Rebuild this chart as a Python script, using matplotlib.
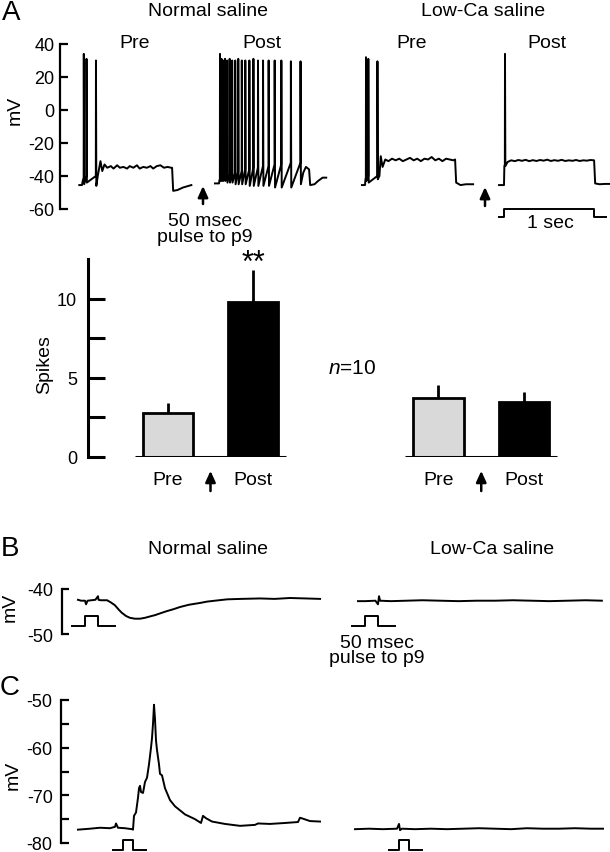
import matplotlib
matplotlib.use("Agg")
import matplotlib.pyplot as plt

plt.rcParams['font.family'] = 'Liberation Sans'
plt.rcParams['mathtext.fontset'] = 'custom'
plt.rcParams['mathtext.it'] = 'Liberation Sans:italic'
plt.rcParams['mathtext.rm'] = 'Liberation Sans'

# ---------------- data ----------------
# Panel A, normal saline, pre (ms from current step onset, mV)
npre_start_t = [-30, 0, 8]
npre_start_v = [-45.5, -45.5, -43]
npre_spk_t = [20, 50, 155]
npre_spk_peak = [34, 31, 30]
npre_spk_thr = [-41, -40, -40]
npre_spk_trough = [-45, -44, -46]
npre_tail_t = [175, 205, 225, 250, 280, 320, 350, 390, 420, 460, 500, 530, 570, 610, 640,
               680, 720, 760, 790, 830, 870, 910, 950, 990, 1000, 1012, 1060, 1120, 1214]
npre_tail_v = [-40, -31, -37, -33, -35, -34, -35.5, -33.5, -35, -34.5, -35.5, -34, -35, -33.5, -35.5,
               -34.5, -35, -34, -35.5, -34, -33.5, -35, -34.5, -35, -35, -49, -48.5, -47, -45.5]

# Panel A, normal saline, post
npost_start_t = [-45, 0, 5]
npost_start_v = [-44.5, -44.5, -42.5]
npost_spk_t = [11, 28, 45, 67, 90, 118, 146, 180, 214, 253, 292, 337, 382, 433, 489, 551, 618, 692, 798, 905]
npost_spk_peak = [34, 31, 30, 31, 30, 31, 30, 30, 31, 30, 30, 30, 31, 30, 30, 30, 30, 30, 29.5, 29.5]
npost_spk_thr = [-42, -40, -40, -40, -39, -39, -38, -38, -37, -37, -36, -36, -35, -35, -34, -34, -33, -33, -32, -32]
npost_spk_trough = [-43, -43, -43, -43, -44, -44, -44, -45, -45, -45, -45, -46, -46, -46, -46, -46, -47, -47, -47, -45]
npost_tail_t = [935, 965, 1000, 1012, 1060, 1100, 1150, 1190]
npost_tail_v = [-38, -34.5, -36, -45.5, -45, -43, -41, -41]

# Panel A, low-Ca saline, pre
lpre_start_t = [-34, 0, 5]
lpre_start_v = [-45.5, -45.5, -42]
lpre_spk_t = [11, 37, 138]
lpre_spk_peak = [32, 31, 29.5]
lpre_spk_thr = [-41, -40, -40]
lpre_spk_trough = [-43, -44, -42]
lpre_tail_t = [160, 175, 195, 225, 260, 300, 340, 380, 420, 460, 500, 540, 580, 620, 660,
               700, 740, 780, 820, 860, 900, 940, 980, 1000, 1012, 1060, 1120, 1200]
lpre_tail_v = [-40, -28, -34.5, -30, -31, -29.5, -30.5, -29.5, -31, -30, -29, -30.5, -29.5, -31, -29.5,
               -30, -28.5, -30.5, -29.5, -31, -29.5, -30, -30.5, -30, -44, -45.5, -45, -45]

# Panel A, low-Ca saline, post
lpost_start_t = [-55, 0, 4]
lpost_start_v = [-45.5, -45.5, -34]
lpost_spk_t = [11]
lpost_spk_peak = [34]
lpost_spk_thr = [-33]
lpost_spk_trough = [-34]
lpost_tail_t = [40, 80, 120, 160, 200, 240, 280, 320, 360, 400, 440, 480, 520, 560, 600,
                640, 680, 720, 760, 800, 840, 880, 920, 960, 1000, 1012, 1060, 1120, 1190]
lpost_tail_v = [-31.5, -30.5, -31, -30.3, -30.8, -30.2, -31, -30.4, -30.9, -30.3, -30.7, -30.1, -30.9, -30.4, -30.8,
                -30.2, -30.9, -30.5, -30.8, -30.3, -30.9, -30.5, -30.7, -30.3, -30.5, -44.5, -45, -44.8, -44.8]

# current step (1 sec) and 50 msec pulse to p9
step_t = [-55, 0, 0, 1000, 1000, 1130]
step_level = [0, 0, 1, 1, 0, 0]
pulse_t = [-50, 0, 0, 50, 50, 115]
pulse_level = [0, 0, 1, 1, 0, 0]

# Spike counts (mean, SEM), n=10
bar_labels = ['Pre', 'Post']
normal_mean = [2.75, 9.8]
normal_sem = [0.63, 2.0]
lowca_mean = [3.75, 3.5]
lowca_sem = [0.77, 0.62]

# Panel B (ms from pulse onset, mV)
b_norm_t = [-27, -15, 0, 4, 10, 25, 40, 50, 52, 60, 85, 100, 115, 130, 142, 158, 173, 192, 212,
            231, 250, 270, 295, 316, 340, 366, 400, 443, 470, 500, 547, 600, 674, 730, 789, 850, 905]
b_norm_v = [-42.4, -42.6, -42.6, -43.4, -42.6, -42.5, -42.4, -41.6, -42.4, -42.5, -42.5, -43.0, -43.6,
            -44.6, -45.3, -46.0, -46.4, -46.6, -46.6, -46.4, -46.1, -45.8, -45.3, -44.9, -44.5, -44.0,
            -43.5, -43.1, -42.8, -42.6, -42.3, -42.2, -42.1, -42.2, -42.0, -42.1, -42.2]
b_low_t = [-27, 0, 40, 50, 54, 58, 100, 160, 220, 290, 360, 430, 500, 570, 640, 710, 780, 850, 912]
b_low_v = [-42.7, -42.7, -42.6, -43.4, -41.6, -42.6, -42.7, -42.6, -42.5, -42.6, -42.7, -42.6, -42.6,
           -42.5, -42.6, -42.7, -42.6, -42.5, -42.6]

# Panel C (ms from pulse onset, mV)
c_norm_t = [-225, -165, -115, -65, -40, -35, -25, 10, 45, 50, 55, 65, 75, 80, 85, 90, 100, 110, 120, 130,
            140, 145, 150, 155, 160, 165, 170, 180, 185, 195, 210, 235, 260, 310, 360, 390, 400, 415, 445,
            510, 585, 660, 675, 735, 810, 875, 885, 900, 935, 985]
c_norm_v = [-77.2, -77.0, -76.8, -76.9, -76.6, -75.9, -76.8, -76.9, -77.1, -77.2, -74.3, -73.6, -70.5,
            -68.5, -68.0, -69.3, -69.5, -67.2, -66.3, -63.5, -60.0, -58.0, -55.0, -51.0, -54.0, -58.5,
            -60.5, -63.5, -65.5, -65.8, -68.5, -71.0, -72.3, -74.0, -75.0, -75.8, -74.3, -74.8, -75.5,
            -76.0, -76.4, -76.2, -75.9, -76.0, -75.8, -75.6, -74.7, -74.9, -75.4, -75.5]
c_low_t = [-220, -150, -80, -10, 0, 5, 15, 80, 160, 240, 320, 400, 480, 560, 640, 720, 800, 880, 960, 1020]
c_low_v = [-77.1, -77.0, -77.1, -77.0, -76.0, -77.3, -77.0, -77.1, -77.0, -77.1, -77.0, -76.9, -77.0,
           -77.1, -76.9, -77.0, -77.0, -76.9, -77.0, -77.0]

# ---------------- layout helpers ----------------
W, H = 610, 853
MS_A = 11.1   # ms per pixel
MS_B = 3.85
MS_C = 5.0
LW = 1.4
FS = 14
TFS = 13

fig = plt.figure(figsize=(W / 100, H / 100), dpi=100)


def px_axes(left, top, right, bottom):
    ax = fig.add_axes([left / W, 1 - bottom / H, (right - left) / W, (bottom - top) / H])
    for s in ax.spines.values():
        s.set_visible(False)
    ax.set_xticks([])
    ax.set_yticks([])
    ax.patch.set_alpha(0)
    return ax


def trace_axes(left, top, right, bottom, onset, ms_px, ylim):
    ax = px_axes(left, top, right, bottom)
    ax.set_xlim((left - onset) * ms_px, (right - onset) * ms_px)
    ax.set_ylim(*ylim)
    return ax


def left_axis(ax, ticks, labels, minor, length, pad, lw=1.6):
    ax.spines['left'].set_visible(True)
    ax.spines['left'].set_linewidth(lw)
    ax.set_yticks(ticks)
    ax.set_yticklabels(labels)
    ax.set_yticks(minor, minor=True)
    ax.tick_params(axis='y', which='both', direction='in', length=length, width=lw,
                   pad=pad, labelsize=TFS)


def label_at(ax, text, px, py):
    ax.set_ylabel(text, fontsize=FS)
    ax.yaxis.label.set_verticalalignment('center')
    bb = ax.get_position()
    ax.yaxis.set_label_coords((px / W - bb.x0) / bb.width, ((1 - py / H) - bb.y0) / bb.height)


def ftext(px, py, s, **kw):
    kw.setdefault('fontsize', FS)
    fig.text(px / W, 1 - py / H, s, ha='center', va='center', **kw)


def arrow(px, head, tail):
    fig.add_artist(matplotlib.patches.FancyArrowPatch(
        (px / W, 1 - tail / H), (px / W, 1 - head / H), transform=fig.transFigure,
        arrowstyle='-|>,head_length=0.55,head_width=0.25', mutation_scale=12,
        lw=1.8, color='k', shrinkA=0, shrinkB=0))


def spike_trace(st_t, st_v, sp_t, sp_peak, sp_thr, sp_trough, tl_t, tl_v):
    t = list(st_t)
    v = list(st_v)
    for s, p, a, b in zip(sp_t, sp_peak, sp_thr, sp_trough):
        t += [s - 1.5, s, s + 4]
        v += [a, p, b]
    return t + list(tl_t), v + list(tl_v)


# ---------------- Panel A: traces ----------------
ylim_a = (-60, 40)
ax_a1 = trace_axes(60, 45, 200, 210, 82, MS_A, ylim_a)
ax_a2 = trace_axes(205, 45, 335, 210, 219, MS_A, ylim_a)
ax_a3 = trace_axes(350, 45, 480, 210, 365, MS_A, ylim_a)
ax_a4 = trace_axes(490, 45, 610, 210, 504, MS_A, ylim_a)

for ax, parts in [
    (ax_a1, (npre_start_t, npre_start_v, npre_spk_t, npre_spk_peak, npre_spk_thr, npre_spk_trough, npre_tail_t, npre_tail_v)),
    (ax_a2, (npost_start_t, npost_start_v, npost_spk_t, npost_spk_peak, npost_spk_thr, npost_spk_trough, npost_tail_t, npost_tail_v)),
    (ax_a3, (lpre_start_t, lpre_start_v, lpre_spk_t, lpre_spk_peak, lpre_spk_thr, lpre_spk_trough, lpre_tail_t, lpre_tail_v)),
    (ax_a4, (lpost_start_t, lpost_start_v, lpost_spk_t, lpost_spk_peak, lpost_spk_thr, lpost_spk_trough, lpost_tail_t, lpost_tail_v)),
]:
    t, v = spike_trace(*parts)
    ax.plot(t, v, color='k', lw=LW, clip_on=False)

left_axis(ax_a1, [-60, -40, -20, 0, 20, 40], ['-60', '-40', '-20', '0', '20', '40'], [], 6, 4)
label_at(ax_a1, 'mV', 15, 110)

ax_step = trace_axes(490, 210, 610, 218, 504, MS_A, (0, 1))
ax_step.plot(step_t, step_level, color='k', lw=LW, clip_on=False)

ftext(11, 13, 'A', fontsize=20)
ftext(208, 12, 'Normal saline')
ftext(483, 12, 'Low-Ca saline')
ftext(135, 43, 'Pre')
ftext(262, 43, 'Post')
ftext(412, 43, 'Pre')
ftext(547, 43, 'Post')
ftext(205, 222, '50 msec')
ftext(205, 238, 'pulse to p9')
ftext(550, 224, '1 sec')
arrow(203, 187, 205)
arrow(485, 188, 207)

# ---------------- Panel A: spike counts ----------------
xpos = [0, 1]
bw = 0.59
fills = ['#d9d9d9', 'black']


def bar_panel(ax, mean, sem):
    ax.bar(xpos, mean, width=bw, color=fills, edgecolor='k', linewidth=2.0, zorder=2)
    ax.errorbar(xpos, mean, yerr=[[0, 0], sem], fmt='none', ecolor='k', elinewidth=2.0,
                capsize=0, zorder=1)
    ax.hlines(0, xpos[0] - bw / 2 - 0.095, xpos[-1] + bw / 2 + 0.09, color='k', lw=2.2, zorder=3)
    ax.set_ylim(0, 12.5)
    ax.set_xticks(xpos)
    ax.set_xticklabels(bar_labels, fontsize=FS)
    ax.tick_params(axis='x', length=0, pad=10)
    ax.annotate('', xy=(0.5, -0.07), xytext=(0.5, -0.172), xycoords=ax.get_xaxis_transform(),
                arrowprops=dict(arrowstyle='-|>,head_length=0.55,head_width=0.25', mutation_scale=12,
                                lw=1.8, color='k', shrinkA=0, shrinkB=0), annotation_clip=False)


ax_b1 = px_axes(88, 260, 300, 458)
ax_b1.set_xlim((88 - 168) / 85, (300 - 168) / 85)
bar_panel(ax_b1, normal_mean, normal_sem)
left_axis(ax_b1, [0, 5, 10], ['0', '5', '10'], [2.5, 7.5], 12, 8, lw=2.2)
label_at(ax_b1, 'Spikes', 45, 365)
ax_b1.text(1, normal_mean[1] + normal_sem[1] + 0.45, '**', ha='center', va='center', fontsize=22)

ax_b2 = px_axes(400, 260, 560, 458)
ax_b2.set_xlim((400 - 438.5) / 85.5, (560 - 438.5) / 85.5)
bar_panel(ax_b2, lowca_mean, lowca_sem)

ftext(352, 369, '$n$=10', fontsize=15)

# ---------------- Panel B ----------------
ax_bn = trace_axes(62, 590, 330, 635, 85, MS_B, (-50, -40))
ax_bn.plot(b_norm_t, b_norm_v, color='k', lw=LW, clip_on=False)
left_axis(ax_bn, [-50, -40], ['-50', '-40'], [], 5, 6)
label_at(ax_bn, 'mV', 10, 607)
ax_bl = trace_axes(340, 590, 610, 635, 365, MS_B, (-50, -40))
ax_bl.plot(b_low_t, b_low_v, color='k', lw=LW, clip_on=False)

for left, right, onset in [(62, 330, 85), (340, 610, 365)]:
    ax_p = trace_axes(left, 617, right, 627, onset, MS_B, (0, 1))
    ax_p.plot(pulse_t, pulse_level, color='k', lw=LW, clip_on=False)

ftext(10, 549, 'B', fontsize=20)
ftext(208, 550, 'Normal saline')
ftext(492, 550, 'Low-Ca saline')
ftext(377, 643, '50 msec')
ftext(377, 659, 'pulse to p9')

# ---------------- Panel C ----------------
ax_cn = trace_axes(61, 701, 330, 844, 123, MS_C, (-80, -50))
ax_cn.plot(c_norm_t, c_norm_v, color='k', lw=LW, clip_on=False)
left_axis(ax_cn, [-80, -70, -60, -50], ['-80', '-70', '-60', '-50'], [-75, -65, -55], 6, 6)
label_at(ax_cn, 'mV', 13, 775)
ax_cl = trace_axes(340, 701, 610, 844, 399, MS_C, (-80, -50))
ax_cl.plot(c_low_t, c_low_v, color='k', lw=LW, clip_on=False)

for left, right, onset in [(61, 330, 123), (340, 610, 399)]:
    ax_p = trace_axes(left, 841, right, 851, onset, MS_C, (0, 1))
    ax_p.plot(pulse_t, pulse_level, color='k', lw=LW, clip_on=False)

ftext(10, 688, 'C', fontsize=20)

fig.savefig('out.png', dpi=100)
